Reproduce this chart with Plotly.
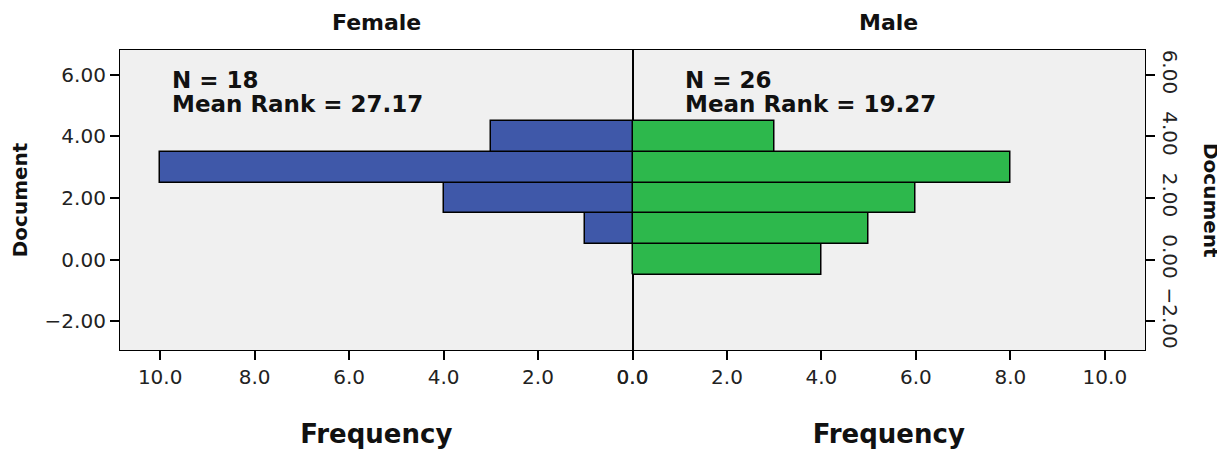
import plotly.graph_objects as go
from plotly.subplots import make_subplots

# histogram bins of the "Document" score (bar centres)
document_bins = [0, 1, 2, 3, 4]
female_freq = [0, 1, 4, 10, 3]
male_freq = [4, 5, 6, 8, 3]

groups = ['Female', 'Male']
group_n = [18, 26]
mean_rank = [27.17, 19.27]

y_ticks = [-2, 0, 2, 4, 6]
x_ticks = [0, 2, 4, 6, 8, 10]

FONT = 'DejaVu Sans'
BLUE = '#3F58A9'
GREEN = '#2DB84C'

fig = make_subplots(rows=1, cols=2, horizontal_spacing=0)

fig.add_trace(go.Bar(
    x=female_freq, y=document_bins, orientation='h', width=1,
    marker=dict(color=BLUE, line=dict(color='black', width=1.5)),
    name='Female'
), row=1, col=1)

fig.add_trace(go.Bar(
    x=male_freq, y=document_bins, orientation='h', width=1,
    marker=dict(color=GREEN, line=dict(color='black', width=1.5)),
    name='Male'
), row=1, col=2)

axis_common = dict(
    showgrid=False, zeroline=False, showline=True, linecolor='black',
    linewidth=1.2, ticks='outside', ticklen=9, tickwidth=1.5, tickcolor='black',
    tickfont=dict(family=FONT, size=20, color='#222'), automargin=False,
)

x_title = dict(text='<b>Frequency</b>', font=dict(family=FONT, size=26, color='#111'),
               standoff=36)

fig.update_xaxes(range=[10.85, 0], tickvals=x_ticks, tickformat='.1f',
                 mirror=True, title=x_title, **axis_common, row=1, col=1)
fig.update_xaxes(range=[0, 10.85], tickvals=x_ticks, tickformat='.1f',
                 mirror=True, title=x_title, **axis_common, row=1, col=2)

fig.update_yaxes(range=[-2.94, 6.81], tickvals=y_ticks, tickformat='.2f',
                 mirror=True,
                 title=dict(text='<b>Document</b>', font=dict(family=FONT, size=20, color='#111'),
                            standoff=13),
                 **axis_common, row=1, col=1)
fig.update_yaxes(range=[-2.94, 6.81], tickvals=y_ticks, tickformat='.2f',
                 side='right', mirror=True, tickangle=90,
                 **axis_common, row=1, col=2)

annotations = []
# panel titles
for i, g in enumerate(groups):
    annotations.append(dict(
        text='<b>%s</b>' % g, xref='x%s domain' % ('' if i == 0 else '2'),
        yref='paper', x=0.5, y=1.0, yanchor='middle', yshift=28, showarrow=False,
        font=dict(family=FONT, size=22, color='#111')
    ))

# N / mean rank text
stats_x = [9.8, 1.06]
for i in range(2):
    xr = 'x' if i == 0 else 'x2'
    yr = 'y' if i == 0 else 'y2'
    annotations.append(dict(
        text='<b>N = %d</b>' % group_n[i], xref=xr, yref=yr,
        x=stats_x[i], y=5.84, xanchor='left', yanchor='middle', showarrow=False,
        font=dict(family=FONT, size=23, color='#111')
    ))
    annotations.append(dict(
        text='<b>Mean Rank = %.2f</b>' % mean_rank[i], xref=xr, yref=yr,
        x=stats_x[i], y=5.06, xanchor='left', yanchor='middle', showarrow=False,
        font=dict(family=FONT, size=23, color='#111')
    ))

# right-hand axis title, rotated clockwise
annotations.append(dict(
    text='<b>Document</b>', xref='paper', yref='paper', x=1.0, y=0.5,
    xshift=80, textangle=90, showarrow=False,
    font=dict(family=FONT, size=20, color='#111')
))

# the page puts the plot 8px in from the top-left, so offset the margins
fig.update_layout(
    width=1225, height=452,
    margin=dict(l=112, r=88, t=42, b=110),
    paper_bgcolor='white', plot_bgcolor='#F0F0F0',
    showlegend=False, bargap=0,
    annotations=annotations,
)

fig.write_html('out.html')
